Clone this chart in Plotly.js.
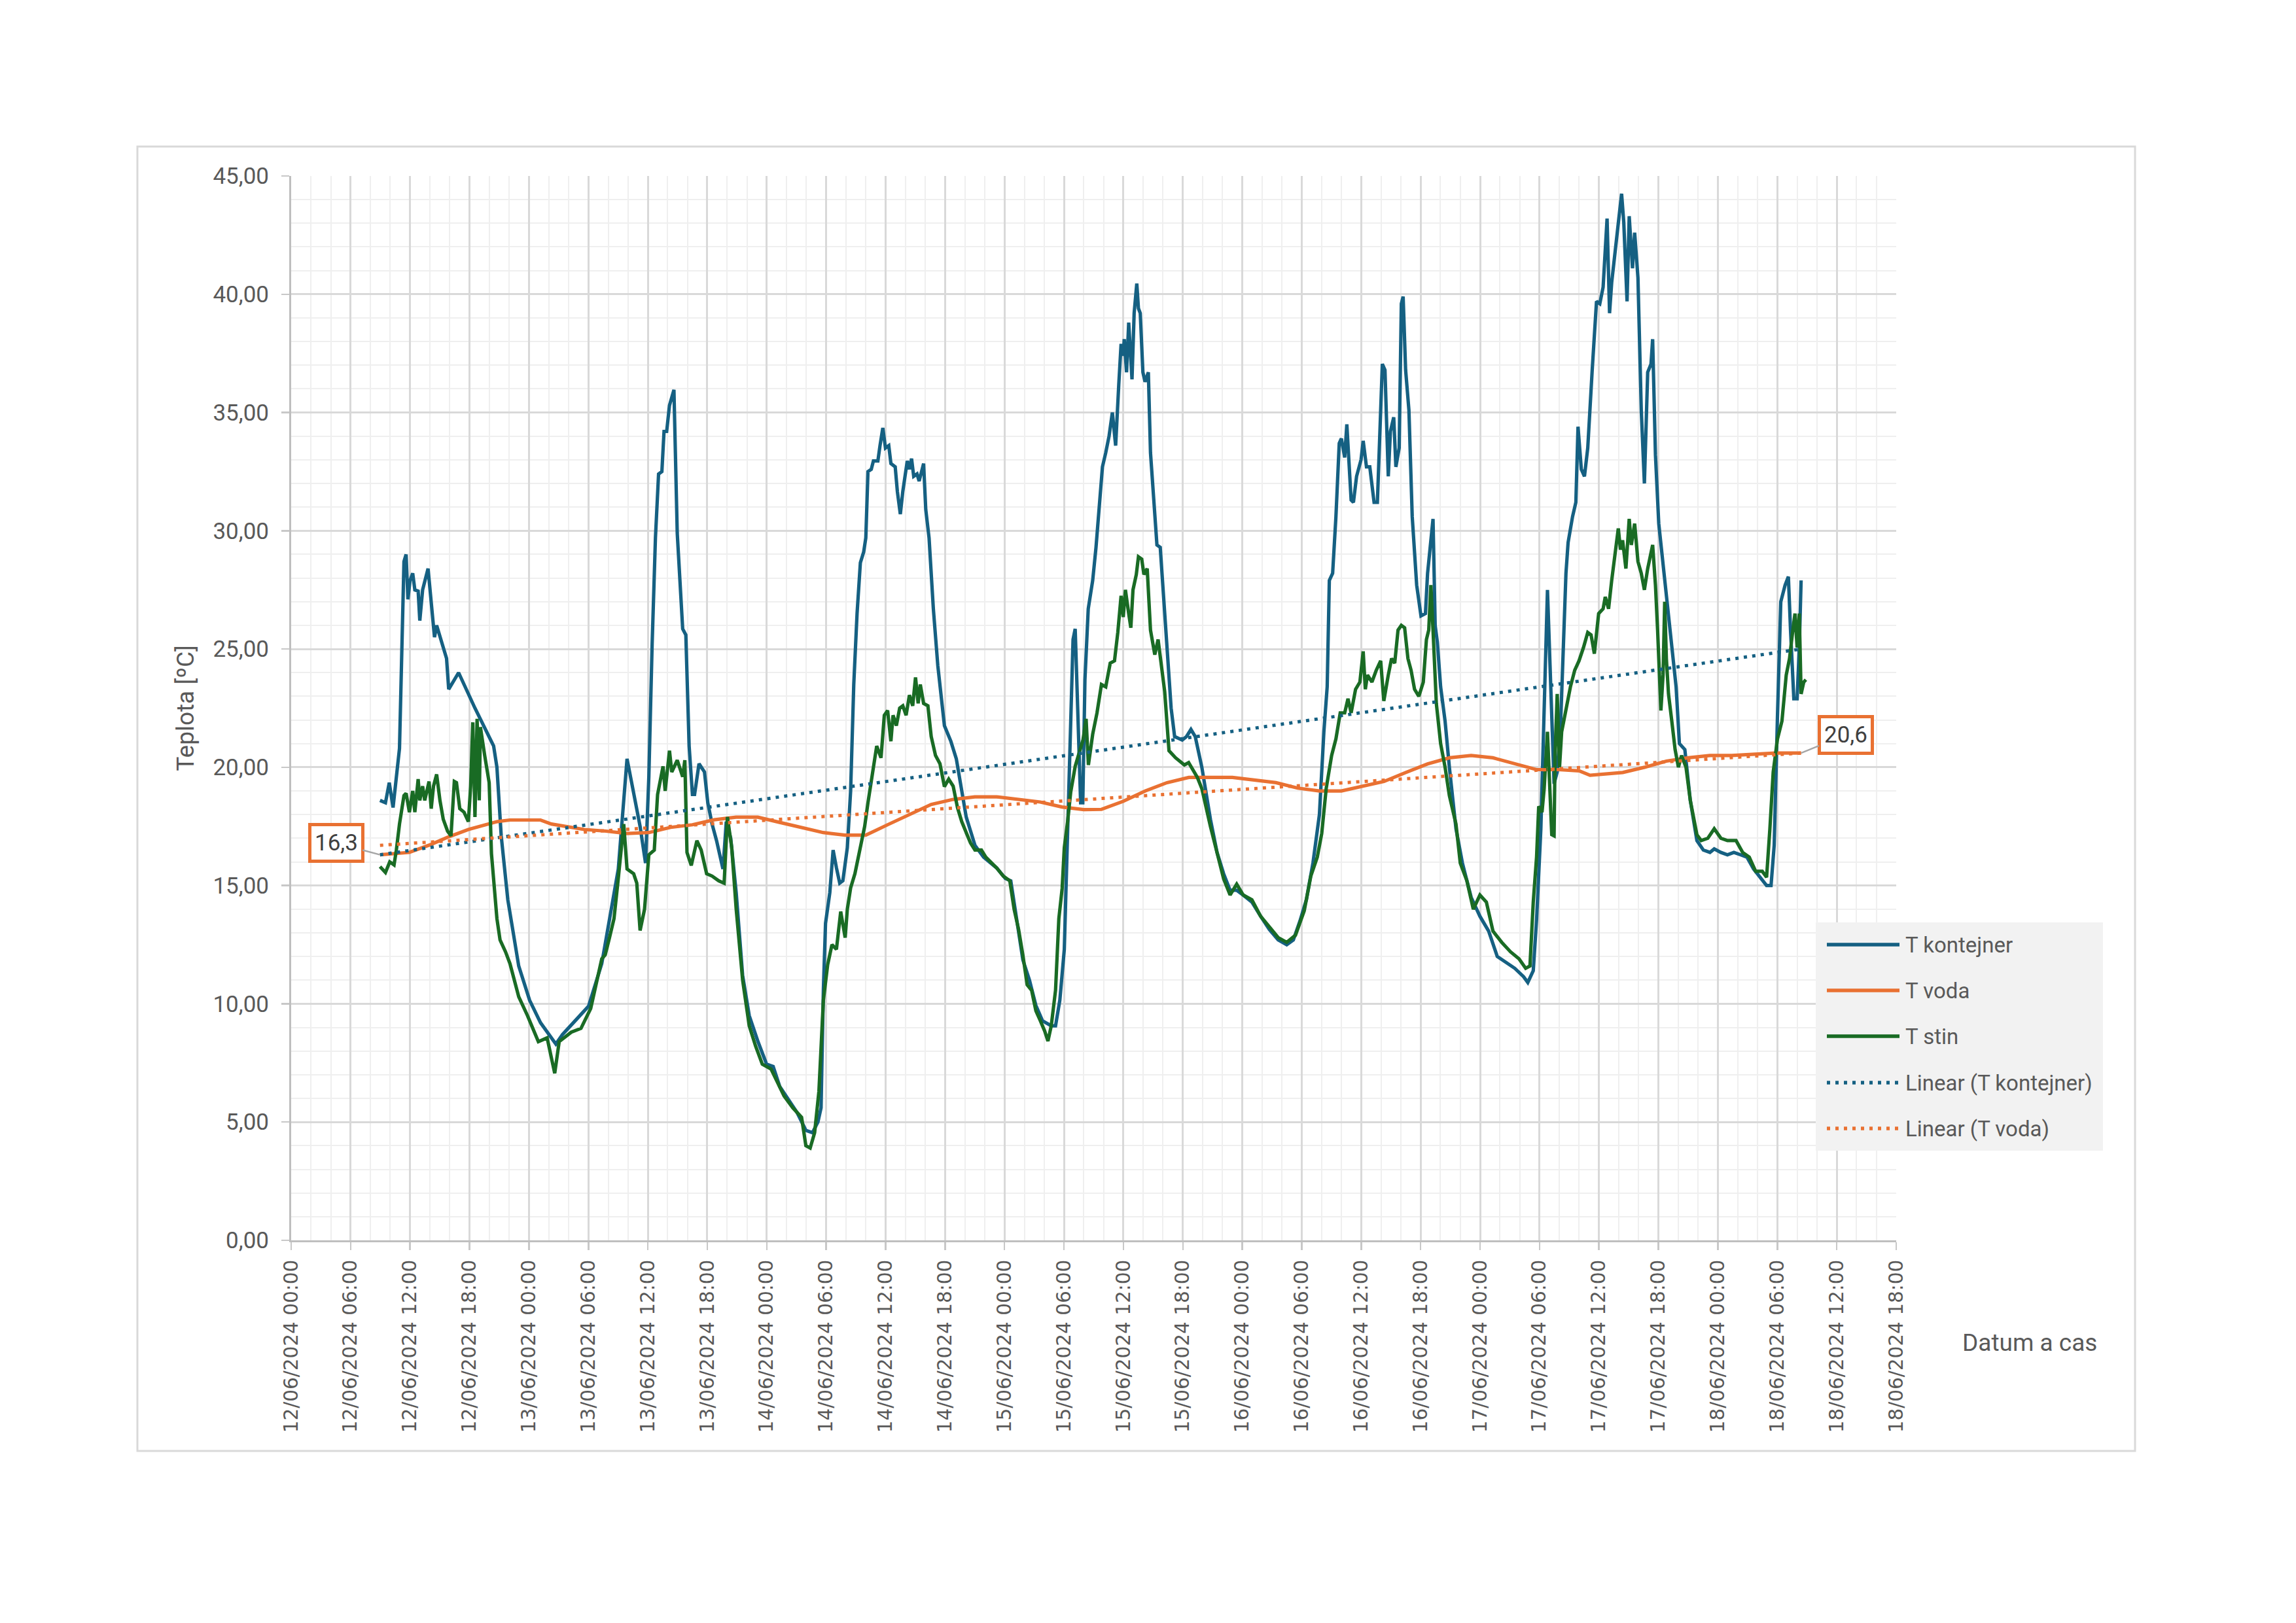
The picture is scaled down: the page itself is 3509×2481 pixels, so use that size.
<!DOCTYPE html>
<html>
<head>
<meta charset="utf-8">
<script src="https://cdn.plot.ly/plotly-3.0.1.min.js"></script>
<style>
  html, body { margin: 0; padding: 0; background: #ffffff; }
  #chart { width: 3509px; height: 2481px; }
</style>
</head>
<body>
<div id="chart"></div>
<script>
// ---------- DATA (hours since 12/06/2024 00:00, values in °C) ----------
const kontejnerH = [8.96,9.51,9.90,10.28,10.94,11.16,11.38,11.60,11.78,12.00,12.26,12.49,12.82,12.99,13.26,13.81,14.14,14.47,14.69,15.02,15.68,15.90,16.90,18.55,20.43,20.76,21.20,21.86,22.96,24.07,25.17,26.71,27.38,28.48,30.02,31.35,32.40,33.02,33.90,34.56,35.22,35.77,36.10,36.43,36.76,37.09,37.42,37.64,37.90,38.19,38.63,38.96,39.51,39.84,40.17,40.50,40.72,41.17,41.72,42.05,42.49,42.93,43.59,43.92,44.36,44.91,45.57,46.23,47.11,47.99,48.65,49.31,50.41,51.07,51.95,52.61,53.16,53.49,53.71,53.93,54.37,54.70,55.03,55.36,55.69,56.13,56.46,56.79,57.12,57.45,57.78,58.00,58.22,58.55,58.77,59.21,59.43,59.72,59.98,60.31,60.53,60.97,61.19,61.48,61.74,62.18,62.40,62.62,62.84,63.17,63.39,63.83,64.05,64.38,64.82,65.27,65.93,66.59,67.14,67.58,68.13,69.01,69.89,71.21,72.09,72.64,73.19,73.85,74.51,75.17,75.83,76.71,77.15,77.59,78.03,78.25,78.58,78.91,79.13,79.35,79.68,79.90,80.12,80.45,80.90,81.23,81.56,81.89,82.22,82.55,82.88,83.21,83.54,83.76,83.98,84.09,84.31,84.53,84.86,85.08,85.35,85.52,85.70,85.96,86.18,86.51,86.73,87.06,87.39,87.72,88.05,88.38,88.82,89.16,89.93,90.37,90.81,91.25,91.91,92.35,92.79,93.45,94.11,94.77,95.43,96.09,96.97,97.85,98.73,99.61,100.49,101.15,101.81,102.47,103.13,103.79,104.24,104.57,104.79,105.12,105.45,105.78,106.00,106.33,106.55,106.99,107.21,107.54,107.98,108.20,108.53,108.86,109.30,109.63,109.96,110.14,110.40,110.73,110.95,111.28,111.50,111.83,112.05,112.23,112.49,112.82,113.15,113.60,114.04,114.48,114.70,114.92,115.25,115.47,115.69,116.02,116.46,116.90,117.56,118.22,119.10,119.98,120.86,121.74,122.62,123.50,124.38,124.82,125.37,125.70,126.14,126.47,126.80,127.13,127.46,127.79,128.12,128.67,128.89,129.33,129.66,129.88,130.21,130.54,130.87,131.31,131.75,132.08,132.41,132.81,133.07,133.29,133.56,133.84,134.06,134.28,134.50,134.83,135.05,135.38,135.60,135.93,136.26,136.59,136.92,137.25,137.41,137.70,138.03,138.58,139.24,139.79,140.12,140.67,141.22,141.88,142.54,143.20,143.64,144.30,144.96,145.62,146.28,146.94,147.60,148.26,148.92,149.36,149.69,150.02,150.35,150.79,151.12,151.34,151.67,152.00,152.22,152.40];
const kontejnerT = [18.6,18.5,19.35,18.3,20.8,24.3,28.7,29.0,27.1,27.9,28.2,27.5,27.45,26.2,27.5,28.4,27.1,25.5,26.0,25.5,24.6,23.3,24.0,22.5,20.9,20.0,17.1,14.4,11.6,10.15,9.2,8.3,8.7,9.2,9.9,11.7,14.2,15.7,20.36,19.0,17.5,15.95,19.6,25.2,29.7,32.4,32.5,34.2,34.2,35.3,35.96,29.9,25.85,25.6,20.9,18.85,18.85,20.15,19.8,18.5,17.6,16.9,15.7,17.7,17.0,14.7,11.2,9.5,8.4,7.45,7.35,6.5,5.8,5.4,4.65,4.55,5.0,5.6,10.6,13.4,14.7,16.5,15.75,15.1,15.2,16.6,19.0,23.5,26.5,28.65,29.1,29.7,32.5,32.6,32.95,32.95,33.6,34.35,33.5,33.6,32.84,32.7,31.66,30.7,31.66,32.95,32.6,33.05,32.3,32.4,32.1,32.84,30.9,29.7,26.7,24.3,21.76,21.1,20.36,19.18,17.9,16.7,16.2,15.74,15.3,15.2,13.6,11.86,11.0,9.93,9.28,9.07,9.07,10.15,12.3,15.74,20.9,25.4,25.85,23.05,18.5,18.5,23.7,26.7,27.9,29.3,31.3,32.7,33.3,34.0,35.0,33.6,36.2,37.9,37.4,38.1,36.7,38.8,36.4,39.2,40.45,39.4,39.2,36.7,36.3,36.7,33.3,31.3,29.4,29.3,27.2,25.2,22.5,21.3,21.15,21.3,21.6,21.3,20.0,18.9,17.8,16.4,15.5,14.8,14.8,14.6,14.3,13.7,13.14,12.7,12.5,12.7,13.5,14.4,15.96,18.0,21.5,23.4,27.9,28.2,30.6,33.7,33.9,33.1,34.5,31.3,31.2,32.3,33.0,33.8,32.7,32.7,31.2,31.2,34.7,37.05,36.8,32.3,34.2,34.8,32.7,33.5,39.6,39.9,36.8,35.1,30.6,27.7,26.4,26.5,28.2,29.1,30.5,26.0,25.3,23.4,21.95,20.0,17.4,15.95,14.5,13.7,13.07,12.0,11.75,11.5,11.15,10.9,11.4,13.55,17.4,22.2,27.5,23.4,19.3,19.8,21.7,28.2,29.5,30.6,31.2,34.4,32.6,32.3,33.5,36.8,39.7,39.6,40.3,43.2,39.2,40.5,41.6,42.6,43.3,44.25,43.05,39.7,43.3,41.1,42.6,40.7,35.1,32.0,36.7,37.05,38.1,33.2,30.3,28.2,25.8,23.4,21.0,20.75,18.6,16.9,16.5,16.4,16.55,16.4,16.3,16.4,16.3,16.2,15.7,15.35,15.0,15.0,16.7,22.2,27.0,27.7,28.06,25.8,22.9,22.9,25.06,27.9];

const vodaH = [8.96,10.61,11.93,14.14,15.90,17.89,19.88,20.76,22.08,25.17,26.27,29.58,31.79,33.88,36.10,38.30,40.50,42.70,44.90,47.10,49.30,51.50,53.70,55.90,58.00,60.20,62.40,64.60,66.80,69.00,71.20,73.40,75.60,77.80,80.00,81.78,83.98,86.20,88.40,90.60,95.00,97.20,99.40,101.60,103.80,106.00,108.10,110.30,112.50,114.70,116.90,119.10,121.30,123.50,125.70,127.90,130.00,131.10,134.40,136.60,138.80,141.00,143.20,145.40,147.60,149.80,152.40];
const vodaT = [16.3,16.34,16.4,16.74,17.06,17.37,17.6,17.7,17.77,17.77,17.6,17.37,17.3,17.2,17.24,17.46,17.57,17.78,17.89,17.89,17.67,17.46,17.24,17.13,17.13,17.57,18.0,18.43,18.64,18.75,18.75,18.64,18.53,18.32,18.21,18.22,18.56,19.0,19.35,19.57,19.57,19.46,19.35,19.12,19.0,19.0,19.2,19.4,19.78,20.14,20.4,20.5,20.4,20.14,19.9,19.9,19.85,19.66,19.78,20.0,20.26,20.4,20.5,20.5,20.55,20.6,20.6];

const stinH = [8.96,9.51,9.95,10.39,10.61,10.94,11.38,11.60,11.93,12.26,12.49,12.82,12.99,13.26,13.48,13.92,14.14,14.36,14.69,15.02,15.35,15.79,16.13,16.46,16.68,17.01,17.45,17.89,18.11,18.33,18.55,18.77,18.99,19.10,19.54,19.99,20.21,20.76,21.09,21.64,22.08,22.96,23.85,24.95,25.83,26.60,27.05,28.26,29.25,30.24,31.35,31.70,32.14,32.58,33.02,33.57,33.90,34.56,34.89,35.22,35.66,36.10,36.65,36.98,37.53,37.75,38.19,38.41,38.96,39.51,39.73,39.95,40.39,40.95,41.39,41.94,42.49,43.15,43.70,44.03,44.47,44.91,45.57,46.23,46.89,47.55,48.43,49.09,49.75,50.63,51.51,51.95,52.39,52.83,53.27,53.71,54.15,54.59,55.03,55.47,55.91,56.13,56.46,56.90,57.12,57.56,57.89,58.22,58.66,59.10,59.54,59.87,60.20,60.53,60.75,61.08,61.41,61.74,62.07,62.40,62.73,63.02,63.28,63.50,63.83,64.27,64.60,65.04,65.49,65.93,66.37,66.81,67.25,67.69,68.13,68.57,69.01,69.67,70.11,71.21,71.87,72.53,72.97,73.41,73.85,74.29,74.73,75.17,75.61,76.05,76.38,76.71,77.15,77.48,77.81,78.03,78.36,78.69,79.13,79.58,79.91,80.24,80.46,80.90,81.34,81.78,82.22,82.66,83.10,83.43,83.76,83.98,84.20,84.53,84.75,84.97,85.30,85.52,85.85,86.07,86.40,86.73,87.17,87.50,87.83,88.16,88.60,89.27,90.15,90.59,91.47,91.91,92.79,93.45,94.11,94.77,95.43,96.09,96.97,97.85,98.73,99.61,100.49,101.37,102.25,102.91,103.57,104.01,104.46,105.01,105.45,105.89,106.33,106.66,106.99,107.43,107.87,108.20,108.42,108.64,109.08,109.52,109.96,110.29,110.73,111.06,111.39,111.72,112.05,112.38,112.71,113.04,113.38,113.82,114.26,114.59,114.81,115.03,115.25,115.58,116.02,116.46,116.90,117.56,118.00,118.66,119.32,119.98,120.64,121.30,122.18,123.06,123.94,124.60,125.04,125.37,125.70,125.92,126.25,126.47,126.80,127.02,127.24,127.46,127.57,127.79,128.01,128.23,128.67,129.11,129.55,129.99,130.43,130.87,131.20,131.53,131.97,132.41,132.63,132.96,133.29,133.62,133.95,134.17,134.39,134.72,135.05,135.27,135.60,135.93,136.26,136.59,136.92,137.41,137.70,137.92,138.25,138.47,138.64,138.80,139.02,139.35,139.68,140.01,140.34,140.78,141.22,141.88,142.32,142.98,143.64,144.30,144.96,145.84,146.50,147.16,147.82,148.48,148.92,149.25,149.58,150.02,150.46,150.90,151.23,151.56,151.78,152.00,152.22,152.40,152.66,152.88];
const stinT = [15.8,15.55,16.0,15.87,16.5,17.6,18.8,18.9,18.1,19.0,18.1,19.5,18.6,19.2,18.6,19.4,18.25,19.2,19.7,18.6,17.8,17.3,17.1,19.4,19.35,18.25,18.1,17.7,19.2,21.9,17.9,22.05,18.6,21.7,20.5,19.35,16.35,13.6,12.7,12.2,11.7,10.3,9.5,8.4,8.56,7.06,8.4,8.8,8.96,9.8,11.9,12.07,12.8,13.6,15.3,17.6,15.7,15.5,15.1,13.1,14.0,16.3,16.5,18.85,20.04,19.0,20.7,19.8,20.3,19.6,20.3,16.4,15.85,16.9,16.5,15.5,15.4,15.2,15.1,17.9,16.6,14.0,11.0,9.07,8.2,7.45,7.24,6.7,6.1,5.6,5.2,4.0,3.9,4.55,6.3,10.15,11.65,12.5,12.3,13.9,12.8,14.0,14.9,15.5,15.95,17.0,17.5,18.5,19.8,20.9,20.4,22.2,22.4,21.1,22.2,21.76,22.5,22.6,22.2,23.05,22.6,23.8,22.7,23.5,22.7,22.6,21.3,20.5,20.15,19.18,19.5,19.2,18.3,17.7,17.24,16.8,16.5,16.5,16.2,15.74,15.4,15.2,14.0,13.15,12.07,10.8,10.57,9.7,9.28,8.85,8.42,9.07,10.57,13.6,14.88,16.6,17.7,18.96,20.04,20.7,21.15,22.05,20.1,21.4,22.3,23.5,23.4,24.4,24.5,25.7,27.25,26.35,27.5,26.5,25.9,27.5,28.15,28.9,28.8,28.15,28.4,25.8,24.76,25.4,24.3,23.2,20.7,20.4,20.1,20.2,19.57,19.1,17.5,16.4,15.28,14.6,15.06,14.6,14.4,13.7,13.25,12.8,12.6,12.9,13.93,15.4,16.2,17.2,19.1,20.5,21.2,22.3,22.3,22.9,22.3,23.3,23.6,24.9,23.3,23.9,23.6,24.1,24.5,22.8,23.9,24.6,24.4,25.8,26.0,25.9,24.6,24.1,23.3,23.0,23.6,25.4,25.8,27.7,25.8,22.7,21.0,20.0,18.8,17.6,15.95,15.2,14.0,14.6,14.3,13.07,12.6,12.2,11.9,11.5,11.6,14.3,16.2,18.35,18.1,19.1,21.5,19.2,17.15,17.1,20.5,23.1,20.0,21.5,22.4,23.4,24.1,24.5,25.06,25.7,25.6,24.8,26.5,26.7,27.2,26.7,27.9,28.9,30.1,29.2,29.6,28.4,30.5,29.4,30.3,28.7,28.2,27.5,28.4,29.4,27.7,25.8,22.4,23.9,27.0,24.6,23.1,21.95,20.75,20.0,20.5,20.0,18.6,17.15,16.9,17.0,17.4,17.0,16.9,16.9,16.4,16.2,15.6,15.6,15.35,17.4,19.8,21.2,21.95,23.9,24.6,25.8,26.5,25.06,26.5,23.1,23.6,23.7];

// linear trend lines (end points)
const trendH = [8.96, 152.40];
const trendKontejner = [16.3, 25.0];
const trendVoda = [16.7, 20.6];

const seriesNames = ['T kontejner', 'T voda', 'T stin', 'Linear (T kontejner)', 'Linear (T voda)'];

// ---------- HELPERS ----------
function hToDate(h) {
  const totalMin = Math.round(h * 60);
  const day = 12 + Math.floor(totalMin / 1440);
  const rem = totalMin % 1440;
  const hh = Math.floor(rem / 60), mm = rem % 60;
  const p = n => String(n).padStart(2, '0');
  return '2024-06-' + p(day) + ' ' + p(hh) + ':' + p(mm);
}
const fmt1 = v => v.toFixed(1).replace('.', ',');

const C_BLUE = '#156082', C_ORANGE = '#E97132', C_GREEN = '#196B24';
const TXT = '#595959';

// ---------- GEOMETRY ----------
const W = 3509, H = 2481;
const L = 445, R = 2898, T = 269, B = 1896;
const pw = R - L, ph = B - T;
const px = x => (x - L) / pw;
const py = y => (B - y) / ph;

const LW = 5.2;
const DOT = '5px,8px';
const traces = [
  { x: kontejnerH.map(hToDate), y: kontejnerT, name: seriesNames[0], type: 'scatter', mode: 'lines',
    line: { color: C_BLUE, width: LW } },
  { x: vodaH.map(hToDate), y: vodaT, name: seriesNames[1], type: 'scatter', mode: 'lines',
    line: { color: C_ORANGE, width: LW } },
  { x: stinH.map(hToDate), y: stinT, name: seriesNames[2], type: 'scatter', mode: 'lines',
    line: { color: C_GREEN, width: LW } },
  { x: trendH.map(hToDate), y: trendKontejner, name: seriesNames[3], type: 'scatter', mode: 'lines',
    line: { color: C_BLUE, width: 5, dash: DOT } },
  { x: trendH.map(hToDate), y: trendVoda, name: seriesNames[4], type: 'scatter', mode: 'lines',
    line: { color: C_ORANGE, width: 5, dash: DOT } }
];

// manual legend (Excel style)
const legX0 = 2775, legX1 = 3214, legY0 = 1410, legY1 = 1759;
const legRows = [1444, 1514, 1584, 1655, 1725];
const legColors = [C_BLUE, C_ORANGE, C_GREEN, C_BLUE, C_ORANGE];
const legDash = ['solid', 'solid', 'solid', DOT, DOT];

const shapes = [
  { type: 'rect', xref: 'paper', yref: 'paper', x0: px(210), x1: px(3263), y0: py(2218), y1: py(224),
    line: { color: '#d9d9d9', width: 3 }, fillcolor: 'rgba(0,0,0,0)', layer: 'below' },
  { type: 'rect', xref: 'paper', yref: 'paper', x0: px(legX0), x1: px(legX1), y0: py(legY1), y1: py(legY0),
    line: { width: 0 }, fillcolor: '#f2f2f2', layer: 'above' }
];
const annotations = [];
legRows.forEach((yy, i) => {
  shapes.push({ type: 'line', xref: 'paper', yref: 'paper', x0: px(2792), x1: px(2903), y0: py(yy), y1: py(yy),
    line: { color: legColors[i], width: 5.5, dash: legDash[i] }, layer: 'above' });
  annotations.push({ xref: 'paper', yref: 'paper', x: px(2910), y: py(yy), xanchor: 'left', yanchor: 'middle',
    text: seriesNames[i], showarrow: false, font: { family: 'Roboto, sans-serif', size: 33, color: TXT } });
});

// x-axis title placed like Excel (right side under the axis)
annotations.push({ xref: 'paper', yref: 'paper', x: px(3102), y: py(2052), xanchor: 'center', yanchor: 'middle',
  text: 'Datum a cas', showarrow: false, font: { family: 'Roboto, sans-serif', size: 37, color: TXT } });

// data labels for first and last T voda point
const boxStyle = { bgcolor: '#ffffff', bordercolor: C_ORANGE, borderwidth: 5, borderpad: 5,
  font: { family: 'Roboto, sans-serif', size: 35, color: '#404040' },
  showarrow: true, arrowhead: 0, arrowwidth: 2.5, arrowcolor: '#a6a6a6', standoff: 0 };
annotations.push(Object.assign({}, boxStyle, { x: hToDate(vodaH[0]), y: vodaT[0], xref: 'x', yref: 'y',
  text: fmt1(vodaT[0]), ax: -67, ay: -18 }));
annotations.push(Object.assign({}, boxStyle, { x: hToDate(vodaH[vodaH.length - 1]), y: vodaT[vodaT.length - 1], xref: 'x', yref: 'y',
  text: fmt1(vodaT[vodaT.length - 1]), ax: 68, ay: -28 }));

const layout = {
  width: W, height: H,
  margin: { l: L, r: W - R, t: T, b: H - B, pad: 0 },
  paper_bgcolor: '#ffffff', plot_bgcolor: '#ffffff',
  separators: ', ',
  showlegend: false,
  font: { family: 'Roboto, sans-serif', color: TXT },
  xaxis: {
    type: 'date',
    range: ['2024-06-12 00:00', '2024-06-18 18:00'],
    tick0: '2024-06-12 00:00', dtick: 6 * 3600000,
    tickformat: '%d/%m/%Y %H:%M',
    tickangle: -90,
    tickfont: { family: 'DejaVu Sans, sans-serif', size: 29.5, color: TXT },
    ticks: 'outside', ticklen: 12, tickwidth: 2.5, tickcolor: '#c8c8c8',
    ticklabelstandoff: 3,
    showgrid: true, gridcolor: '#d9d9d9', gridwidth: 3,
    minor: { dtick: 2 * 3600000, showgrid: true, gridcolor: '#efefef', gridwidth: 2, ticks: '' },
    showline: true, linecolor: '#bfbfbf', linewidth: 3,
    zeroline: false, fixedrange: true
  },
  yaxis: {
    range: [0, 45], dtick: 5, tick0: 0,
    tickformat: '.2f',
    tickfont: { family: 'Roboto, sans-serif', size: 35, color: TXT },
    ticks: 'outside', ticklen: 12, tickwidth: 2.5, tickcolor: '#c8c8c8',
    ticklabelstandoff: 12,
    showgrid: true, gridcolor: '#d9d9d9', gridwidth: 3,
    minor: { dtick: 1, showgrid: true, gridcolor: '#efefef', gridwidth: 2, ticks: '' },
    showline: true, linecolor: '#bfbfbf', linewidth: 3,
    zeroline: false, fixedrange: true,
    title: { text: 'Teplota [ºC]', font: { family: 'Roboto, sans-serif', size: 37, color: TXT }, standoff: 18 }
  },
  shapes: shapes,
  annotations: annotations
};

Plotly.newPlot('chart', traces, layout, { staticPlot: true, displayModeBar: false });
</script>
</body>
</html>
